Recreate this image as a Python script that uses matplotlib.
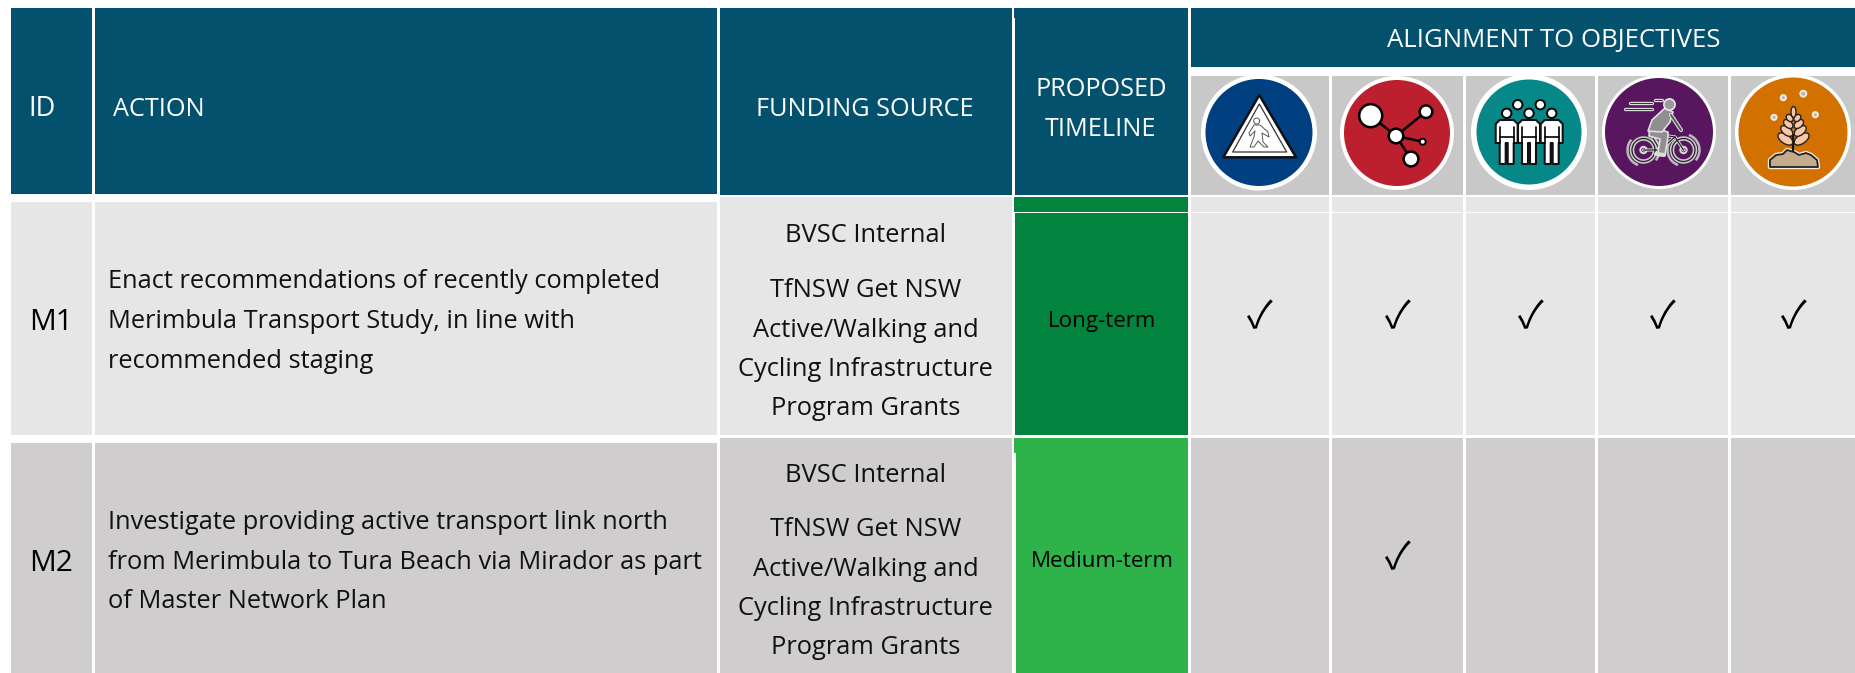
import matplotlib
matplotlib.use("Agg")
import matplotlib.pyplot as plt
from matplotlib.patches import Rectangle, Circle, Ellipse, Polygon, Arc

plt.rcParams["font.family"] = ["Open Sans", "DejaVu Sans"]

# ── table content ─────────────────────────────────────────────────────────────

ids = ["M1", "M2"]
actions = [
    ["Enact recommendations of recently completed",
     "Merimbula Transport Study, in line with",
     "recommended staging"],
    ["Investigate providing active transport link north",
     "from Merimbula to Tura Beach via Mirador as part",
     "of Master Network Plan"],
]
funding_first = ["BVSC Internal", "BVSC Internal"]
funding_rest = ["TfNSW Get NSW", "Active/Walking and",
                "Cycling Infrastructure", "Program Grants"]
timelines = ["Long-term", "Medium-term"]
objective_checks = [
    [1, 1, 1, 1, 1],
    [0, 1, 0, 0, 0],
]

# ── colours and layout (pixels of the 1856x673 image) ─────────────────────────

HEADER = "#04516E"
ROW_COLORS = ["#E6E6E6", "#CFCDCE"]
TIMELINE_COLORS = ["#03843E", "#2DB34A"]
ICON_BG = "#C8C8C8"

COLS = [(1191, 1329), (1332, 1463), (1466, 1595), (1598, 1728), (1731, 1856)]

fig = plt.figure(figsize=(18.56, 6.73), dpi=100, facecolor="white")
ax = fig.add_axes([0, 0, 1, 1])
ax.set_xlim(0, 1856)
ax.set_ylim(673, 0)
ax.axis("off")


def rect(x0, y0, x1, y1, color):
    ax.add_patch(Rectangle((x0, y0), x1 - x0, y1 - y0, facecolor=color, edgecolor="none", linewidth=0))


def label(x, y, s, size=17, color="black", ha="center"):
    ax.text(x, y, s, fontsize=size, color=color, ha=ha, va="baseline")


def poly(pts, fc="none", ec="black", lw=1.0, z=3, closed=True):
    ax.add_patch(Polygon(pts, closed=closed, facecolor=fc, edgecolor=ec, linewidth=lw,
                         zorder=z, joinstyle="round"))


def line(xs, ys, color="black", lw=1.0, z=3):
    ax.plot(xs, ys, color=color, linewidth=lw, zorder=z, solid_capstyle="round")


def disc(x, y, r, fc="white", ec="black", lw=1.0, z=4):
    ax.add_patch(Circle((x, y), r, facecolor=fc, edgecolor=ec, linewidth=lw, zorder=z))


# ── header ────────────────────────────────────────────────────────────────────

rect(11, 8, 92, 194, HEADER)
rect(95, 8, 717, 194, HEADER)
rect(720, 8, 1012, 195, HEADER)
rect(1014, 8, 1188, 18, HEADER)
rect(1015, 18, 1188, 195, HEADER)
rect(1191, 8, 1856, 67, HEADER)

HEAD_SIZE = 18.2
label(28, 116, "ID", 19.5, "white", "left")
label(113, 115.5, "ACTION", HEAD_SIZE, "white", "left")
label(865, 115.5, "FUNDING SOURCE", HEAD_SIZE, "white")
label(1101, 95.5, "PROPOSED", HEAD_SIZE, "white")
label(1101, 136, "TIMELINE", HEAD_SIZE, "white")
label(1554, 47.5, "ALIGNMENT TO OBJECTIVES", 18.5, "white")

for x0, x1 in COLS:
    rect(x0, 76, x1, 195, ICON_BG)

# ── rows ──────────────────────────────────────────────────────────────────────

row_tops = [202, 443]
fund_tops = [197, 438]
row_bots = [435, 673]
action_base = [[288, 328, 368], [529, 569, 608]]
id_base = [330, 571]
fund_base = [[242, 297, 337, 376, 415], [482, 536, 576, 615, 654]]
time_base = [327, 567]
check_y = [318, 559]

for i in range(2):
    bg = ROW_COLORS[i]
    rect(11, row_tops[i], 92, row_bots[i], bg)
    rect(95, row_tops[i], 717, row_bots[i], bg)
    rect(720, fund_tops[i], 1012, row_bots[i], bg)
    label(29, id_base[i], ids[i], 21.5, ha="left")
    for s, y in zip(actions[i], action_base[i]):
        label(108, y, s, 18.25, "#111111", "left")
    for s, y in zip([funding_first[i]] + funding_rest, fund_base[i]):
        label(865.5, y, s, 18.4, "#111111")

    # timeline cell, the first row has the thin split near its top
    if i == 0:
        rect(1014, 197, 1188, 212, TIMELINE_COLORS[i])
        rect(1015, 213, 1188, 435, TIMELINE_COLORS[i])
    else:
        rect(1014, 438, 1188, 453, TIMELINE_COLORS[i])
        rect(1016, 453, 1188, 673, TIMELINE_COLORS[i])
    label(1102, time_base[i], timelines[i], 16.1)

    for (x0, x1), on in zip(COLS, objective_checks[i]):
        if i == 0:
            rect(x0, 197, x1, 212, bg)
            rect(x0, 213, x1, 435, bg)
        else:
            rect(x0, 438, x1, 673, bg)
        if on:
            ax.text((x0 + x1) / 2, check_y[i], "\u2713", fontsize=27, color="black",
                    ha="center", va="center", family=["Noto Sans CJK SC", "DejaVu Sans"])

# ── objective icons ───────────────────────────────────────────────────────────

disc(1259, 132.5, 58, "white", "none", 0, 2)
disc(1259, 132.5, 53.5, "#003F80", "none", 0, 2)
disc(1397, 133, 57, "white", "none", 0, 2)
disc(1397, 133, 53, "#BC1F2E", "none", 0, 2)
disc(1529, 132, 58, "white", "none", 0, 2)
disc(1529, 132, 52.5, "#078888", "none", 0, 2)
disc(1659, 132, 57, "white", "none", 0, 2)
disc(1659, 132, 54, "#58165F", "none", 0, 2)
disc(1793, 132, 58, "white", "none", 0, 2)
disc(1793, 132, 54.5, "#D27000", "none", 0, 2)

# pedestrian sign
poly([(1259.3, 95), (1223.3, 157.3), (1296, 157.3)], "white", "#111111", 1.8)
poly([(1259.3, 104), (1232.7, 152), (1286.7, 152)], "white", "#333333", 0.9)
disc(1256.7, 121, 3, "white", "#555555", 0.7)
poly([(1254, 125), (1260, 125), (1268, 132), (1269, 137), (1262, 133), (1263, 142),
      (1268, 147), (1264, 147), (1258, 141), (1254, 147), (1250, 147), (1254, 137),
      (1255, 131), (1250, 136), (1249, 133)], "white", "#555555", 0.7)

# network
for px, py in [(1370.7, 115.7), (1426, 111.7), (1422.7, 141.7), (1411, 159)]:
    line([px, 1396], [py, 136], lw=1.8)
disc(1370.7, 115.7, 11.5, lw=1.8)
disc(1396, 136, 7.3, lw=1.8)
disc(1426, 111.7, 6.3, lw=1.8)
disc(1422.7, 141.7, 3, lw=1.4)
disc(1411, 159, 7.4, lw=1.8)

# people
disc(1517.7, 104.7, 4.7, lw=1.4)
disc(1540.3, 104.7, 4.7, lw=1.4)
for cx in [1506.7, 1529, 1551.7]:
    disc(cx, 113.3, 4.7, lw=1.4)
    poly([(cx - 7, 120), (cx + 7, 120), (cx + 11, 124), (cx + 11, 143), (cx + 7, 143),
          (cx + 7, 164), (cx + 1, 164), (cx + 1, 143), (cx - 1, 143), (cx - 1, 164),
          (cx - 7, 164), (cx - 7, 143), (cx - 11, 143), (cx - 11, 124)], "white", "#111111", 1.5)
    line([cx - 7, cx + 7], [137, 137], lw=1.2, z=4)
    line([cx - 7, cx - 7], [127, 143], lw=1.2, z=4)
    line([cx + 7, cx + 7], [127, 143], lw=1.2, z=4)

# cyclist
for sx0, sx1, sy in [(1630, 1652, 102.7), (1625, 1652, 109.3), (1655, 1662, 99.5)]:
    line([sx0, sx1], [sy, sy], "#DDDDDD", 2.4)
    line([sx0, sx1], [sy, sy], "#333333", 0.7, 4)
for wx, wr in [(1643.5, 11.5), (1683.5, 11.5)]:
    ax.add_patch(Circle((wx, 150), wr, facecolor="none", edgecolor="#CCCCCC", linewidth=3.2, zorder=3))
    ax.add_patch(Circle((wx, 150), wr, facecolor="none", edgecolor="#222222", linewidth=0.9, zorder=4))
    disc(wx, 150, 3.2, "none", "#DDDDDD", 1.4)
    for a0, a1 in [(110, 220), (290, 40)]:
        ax.add_patch(Arc((wx, 150), 2 * wr + 9, 2 * wr + 9, theta1=a0, theta2=a1,
                         edgecolor="#BBBBBB", linewidth=1.8, zorder=3))
frame_x = [1643.5, 1660, 1650, 1675, 1683.5]
frame_y = [150, 150, 133, 137, 150]
line(frame_x, frame_y, "#DDDDDD", 2.2)
line(frame_x, frame_y, "#222222", 0.9, 4)
line([1660, 1675], [150, 137], "#DDDDDD", 2.2)
line([1660, 1675], [150, 137], "#222222", 0.9, 4)
thigh = [(1650, 127), (1668, 132), (1668, 137), (1665, 155), (1658, 153), (1660, 139), (1649, 136)]
poly(thigh, "#8F8F8F", "#E0E0E0", 1.2, 5)
poly([(1665, 108), (1673, 112), (1670, 122), (1662, 132), (1648, 131), (1652, 120)],
     "#8F8F8F", "#E0E0E0", 1.2, 5)
line([1671, 1681], [115, 130], "#DDDDDD", 3, 5)
line([1671, 1681], [115, 130], "#555555", 1.4, 6)
line([1656, 1664], [154, 155], "#DDDDDD", 3, 6)
disc(1669.5, 104.5, 5.6, "#9A9A9A", "#E5E5E5", 1.2, 6)

# plant
for dx, dy, dr in [(1783.3, 97.7, 2.6), (1803.3, 93.7, 3.0), (1774, 117.3, 2.6), (1815.3, 114.7, 2.6)]:
    disc(dx, dy, dr, "#B8B8B8", "#F5EBDD", 1.4)
line([1793.5, 1793.5], [135, 156], "#111111", 1.6, 4)
for yy, w, h, ang in [(139, 17, 9, 35), (131, 14, 8, 38), (124, 11, 7, 42), (118, 8, 6, 48)]:
    for sign in [-1, 1]:
        off = w * 0.48
        ax.add_patch(Ellipse((1793.5 + sign * off, yy), w, h, angle=sign * -ang, facecolor="#F7C7A6",
                             edgecolor="#222222", linewidth=1.0, zorder=4))
ax.add_patch(Ellipse((1793.5, 112), 5, 11, facecolor="#F7C7A6", edgecolor="#222222", linewidth=1.0, zorder=4))
poly([(1770, 167), (1770, 160), (1776, 155), (1783, 154), (1787, 150), (1794, 152), (1799, 155),
      (1806, 153), (1811, 155), (1817, 160), (1818, 167)], "#C4AB8D", "#F5EBDD", 3.2, 3)
poly([(1770, 167), (1770, 160), (1776, 155), (1783, 154), (1787, 150), (1794, 152), (1799, 155),
      (1806, 153), (1811, 155), (1817, 160), (1818, 167)], "#C4AB8D", "#222222", 1.3, 4)

fig.savefig("out.png", dpi=100, facecolor="white")
